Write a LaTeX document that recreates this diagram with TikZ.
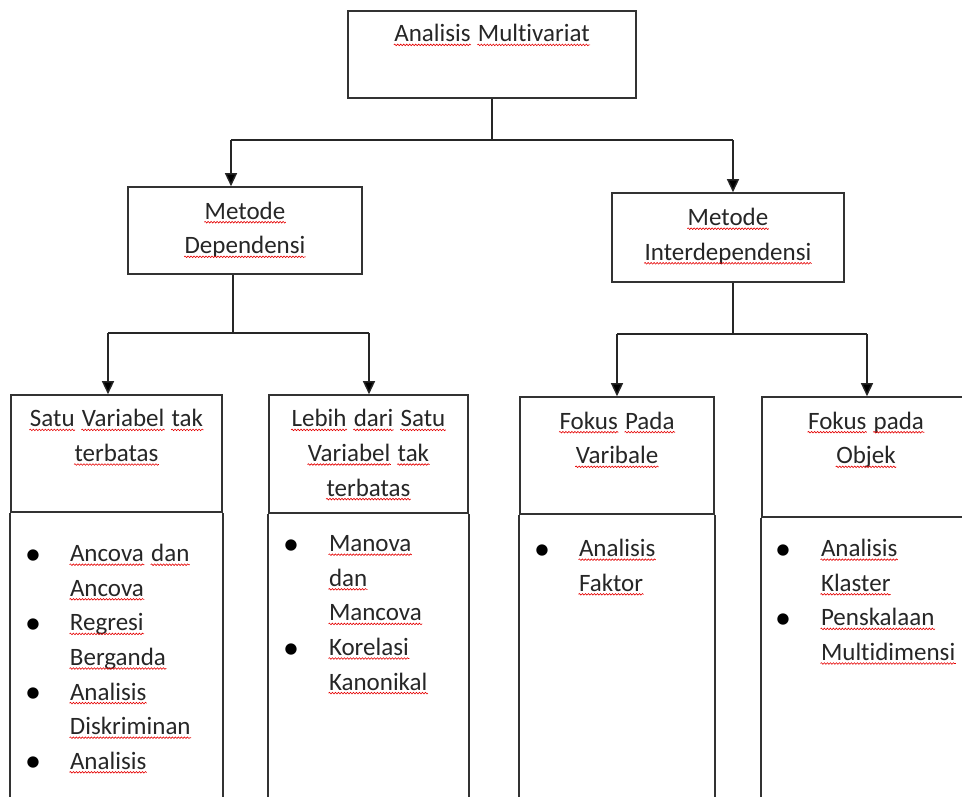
\documentclass[tikz,border=0pt]{standalone}
\usepackage{fontspec}
\setmainfont{Carlito}[Ligatures=NoCommon]
\usepackage{tikz}
\usetikzlibrary{arrows.meta,decorations.pathmorphing,positioning}

% word with the red spell-check wave under it
\newcommand\typo[1]{\tikz[baseline=(w.base)]{\node[inner sep=0pt,outer sep=0pt,anchor=base] (w) {#1};
  \draw[red!90!black, line width=0.6pt, decorate, decoration={snake,amplitude=0.8pt,segment length=3pt}]
    ([xshift=-0.5pt,yshift=-3pt]w.base west) -- ([xshift=0.5pt,yshift=-3pt]w.base east);}}

\begin{document}
\begin{tikzpicture}[x=1pt,y=-1pt,
  box/.style={draw=black!80, line width=1.6pt},
  txt/.style={align=center, anchor=base, inner sep=0pt, text=black!85, font=\fontsize{25pt}{34.6pt}\selectfont},
  list/.style={align=left, anchor=base west, inner sep=0pt, text=black!85, font=\fontsize{25pt}{34.6pt}\selectfont},
  dot/.style={anchor=base, inner sep=0pt, yshift=-2.5pt, font=\fontsize{32pt}{34.6pt}\selectfont},
  link/.style={draw=black!85, line width=1.4pt},
  flow/.style={link, -{Triangle[width=12pt,length=13pt]}}]

\clip (0,0) rectangle (962,796);

% Position the boxes
\node[box, minimum width=288pt, minimum height=87pt] (multi) at (492,54.5) {};
\node[box, minimum width=234pt, minimum height=87pt] (dep) at (245,230.5) {};
\node[box, minimum width=232pt, minimum height=89pt] (inter) at (728,237.5) {};
\node[box, minimum width=211pt, minimum height=117pt] (satu) at (116.5,453.5) {};
\node[box, minimum width=199pt, minimum height=118pt] (lebih) at (368.5,454) {};
\node[box, minimum width=194pt, minimum height=117pt] (fvar) at (617,455.5) {};
\node[box, minimum width=208pt, minimum height=120pt] (fobj) at (866,457) {};

% the open lower part of the last four boxes
\foreach \b in {satu,lebih,fvar,fobj} {
  \draw[box] (\b.south west) -- ++(0,320);
  \draw[box] (\b.south east) -- ++(0,320);
}

% Box titles (anchored on the baseline of their last line)
\node[txt] (multiTxt) at ([yshift=-31.7pt]multi.north) {\typo{Analisis} \typo{Multivariat}};
\node[txt] (depTxt) at ([yshift=-67.6pt]dep.north) {\typo{Metode}\\\typo{Dependensi}};
\node[txt] (interTxt) at ([yshift=-68.1pt]inter.north) {\typo{Metode}\\\typo{Interdependensi}};
\node[txt] (satuTxt) at ([yshift=-67.3pt]satu.north) {\typo{Satu} \typo{Variabel} \typo{tak}\\\typo{terbatas}};
\node[txt] (lebihTxt) at ([yshift=-101.9pt]lebih.north) {\typo{Lebih} \typo{dari} \typo{Satu}\\\typo{Variabel} \typo{tak}\\\typo{terbatas}};
\node[txt] (fvarTxt) at ([yshift=-67.6pt]fvar.north) {\typo{Fokus} \typo{Pada}\\\typo{Varibale}};
\node[txt] (fobjTxt) at ([yshift=-67.6pt]fobj.north) {\typo{Fokus} \typo{pada}\\\typo{Objek}};

% Bullet lists
\node[list] (satuList) at (69,769.3) {\typo{Ancova} \typo{dan}\\\typo{Ancova}\\\typo{Regresi}\\\typo{Berganda}\\\typo{Analisis}\\\typo{Diskriminan}\\\typo{Analisis}};
\node[list] (lebihList) at (328,690.1) {\typo{Manova}\\\typo{dan}\\\typo{Mancova}\\\typo{Korelasi}\\\typo{Kanonikal}};
\node[list] (fvarList) at (578,591.3) {\typo{Analisis}\\\typo{Faktor}};
\node[list] (fobjList) at (820,660.5) {\typo{Analisis}\\\typo{Klaster}\\\typo{Penskalaan}\\\typo{Multidimensi}};
\foreach \i in {0,2,4,6} \node[dot] (satuDot\i) at (33,{561.7+34.6*\i}) {\textbullet};
\foreach \i in {0,3} \node[dot] (lebihDot\i) at (291,{551.7+34.6*\i}) {\textbullet};
\node[dot] (fvarDot0) at (542,556.7) {\textbullet};
\foreach \i in {0,2} \node[dot] (fobjDot\i) at (783,{556.7+34.6*\i}) {\textbullet};

% Draw the connectors between the boxes
\coordinate (topL) at (231,140);
\coordinate (topR) at (733,140);
\draw[link] (multi.south) -- (multi.south |- topL);
\draw[link] (topL) -- (topR);
\draw[flow] (topL) -- (topL |- dep.north);
\draw[flow] (topR) -- (topR |- inter.north);

\coordinate (depFork) at (233,333);
\coordinate (depL) at (108,333);
\coordinate (depR) at (369,333);
\draw[link] (depFork |- dep.south) -- (depFork);
\draw[link] (depL) -- (depR);
\draw[flow] (depL) -- (depL |- satu.north);
\draw[flow] (depR) -- (depR |- lebih.north);

\coordinate (interFork) at (733,334);
\coordinate (interL) at (617,334);
\coordinate (interR) at (867,334);
\draw[link] (interFork |- inter.south) -- (interFork);
\draw[link] (interL) -- (interR);
\draw[flow] (interL) -- (interL |- fvar.north);
\draw[flow] (interR) -- (interR |- fobj.north);

\end{tikzpicture}
\end{document}
